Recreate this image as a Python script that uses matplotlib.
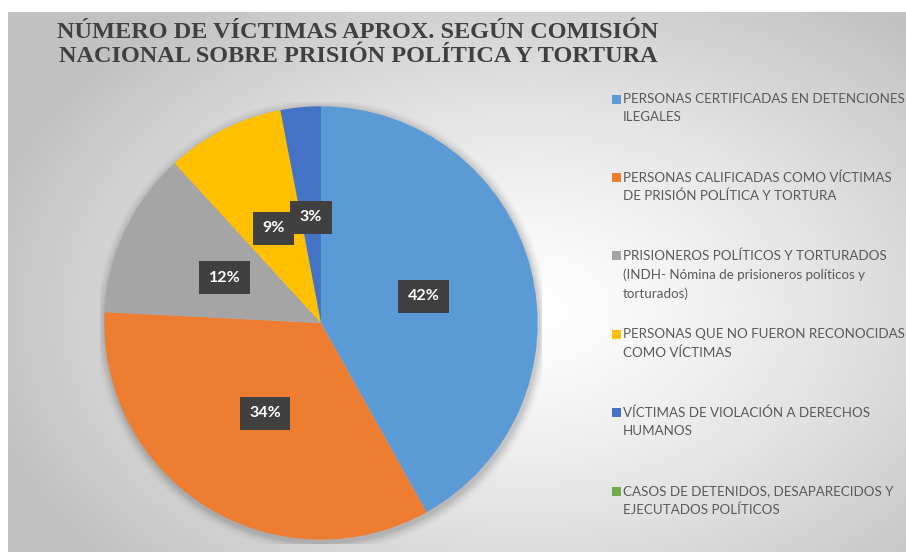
import numpy as np
import matplotlib
matplotlib.use("Agg")
import matplotlib.pyplot as plt
from matplotlib.patches import Rectangle, Circle

# ---------------- data ----------------
categories = [
    "PERSONAS CERTIFICADAS EN DETENCIONES\nILEGALES",
    "PERSONAS CALIFICADAS COMO VÍCTIMAS\nDE PRISIÓN POLÍTICA Y TORTURA",
    "PRISIONEROS POLÍTICOS Y TORTURADOS\n(INDH- Nómina de prisioneros políticos y\ntorturados)",
    "PERSONAS QUE NO FUERON RECONOCIDAS\nCOMO VÍCTIMAS",
    "VÍCTIMAS DE VIOLACIÓN A DERECHOS\nHUMANOS",
    "CASOS DE DETENIDOS, DESAPARECIDOS Y\nEJECUTADOS POLÍTICOS",
]
values = [41.9, 33.9, 12.4, 8.8, 3.0, 0.0]
colors = ["#5B9BD5", "#ED7D31", "#A5A5A5", "#FFC000", "#4472C4", "#70AD47"]
title_lines = ["NÚMERO DE VÍCTIMAS APROX. SEGÚN COMISIÓN",
               "NACIONAL SOBRE PRISIÓN POLÍTICA Y TORTURA"]

W, H = 906, 552
fig = plt.figure(figsize=(W / 100, H / 100), dpi=100)
fig.patch.set_facecolor("white")

# ---------------- background radial gradient ----------------
bx0, by0 = 8, 12  # chart area top-left in px
bg = fig.add_axes([bx0 / W, 0, (W - bx0) / W, (H - by0) / H])
bg.set_axis_off()
ny, nx = 270, 450
yy, xx = np.mgrid[0:ny, 0:nx]
cx, cy = nx * 0.58, ny * 0.55
d = np.sqrt(((xx - cx) / (nx * 0.62)) ** 2 + ((yy - cy) / (ny * 0.70)) ** 2)
d = np.clip(d, 0, 1) ** 1.3
lo, hi = 1.0, 0.76
g = hi * d + lo * (1 - d)
img = np.dstack([g, g, g])
bg.imshow(img, aspect="auto", extent=[0, 1, 0, 1], interpolation="bilinear")
bg.set_xlim(0, 1)
bg.set_ylim(0, 1)

# ---------------- pie ----------------
pcx, pcy, r = 321, 323, 221
ax = fig.add_axes([(pcx - r) / W, (H - pcy - r) / H, 2 * r / W, 2 * r / H])
ax.set_axis_off()

# soft shadow
for k, a in enumerate(np.linspace(0.05, 0.012, 6)):
    ax.add_patch(Circle((0.005, -0.012), 1.0 + 0.008 * (k + 1), color="black",
                        alpha=a, lw=0, zorder=0))

wedges, _, autotexts = ax.pie(
    values, colors=colors, startangle=90, counterclock=False,
    radius=1.0, autopct=lambda p: f"{p:.0f}%" if p > 0 else "",
    pctdistance=0.49, wedgeprops=dict(linewidth=0),
    textprops=dict(color="white", fontsize=11.5, fontweight="bold",
                   family="Lato"),
)
for t in autotexts:
    t.set_bbox(dict(boxstyle="square,pad=0.6", facecolor="#404040",
                    edgecolor="none"))
ax.set_xlim(-1.02, 1.02)
ax.set_ylim(-1.02, 1.02)

# ---------------- title ----------------
for baseline, line in zip([38, 62], title_lines):
    fig.text(358 / W, 1 - baseline / H, line, ha="center", va="baseline",
             fontsize=17.5, fontweight="bold", family="Liberation Serif",
             color="#404040")

# ---------------- legend ----------------
lx, ly0, dy = 612, 99, 78.4
for i, (lab, col) in enumerate(zip(categories, colors)):
    y = ly0 + i * dy
    fig.patches.append(Rectangle(((lx) / W, 1 - (y + 4.5) / H), 9 / W, 9 / H,
                                 transform=fig.transFigure, facecolor=col,
                                 edgecolor="none"))
    fig.text((lx + 11) / W, 1 - (y - 6) / H, lab, ha="left", va="top",
             fontsize=9.6, family="Lato", color="#595959", linespacing=1.58)

fig.savefig("out.png", dpi=100)
